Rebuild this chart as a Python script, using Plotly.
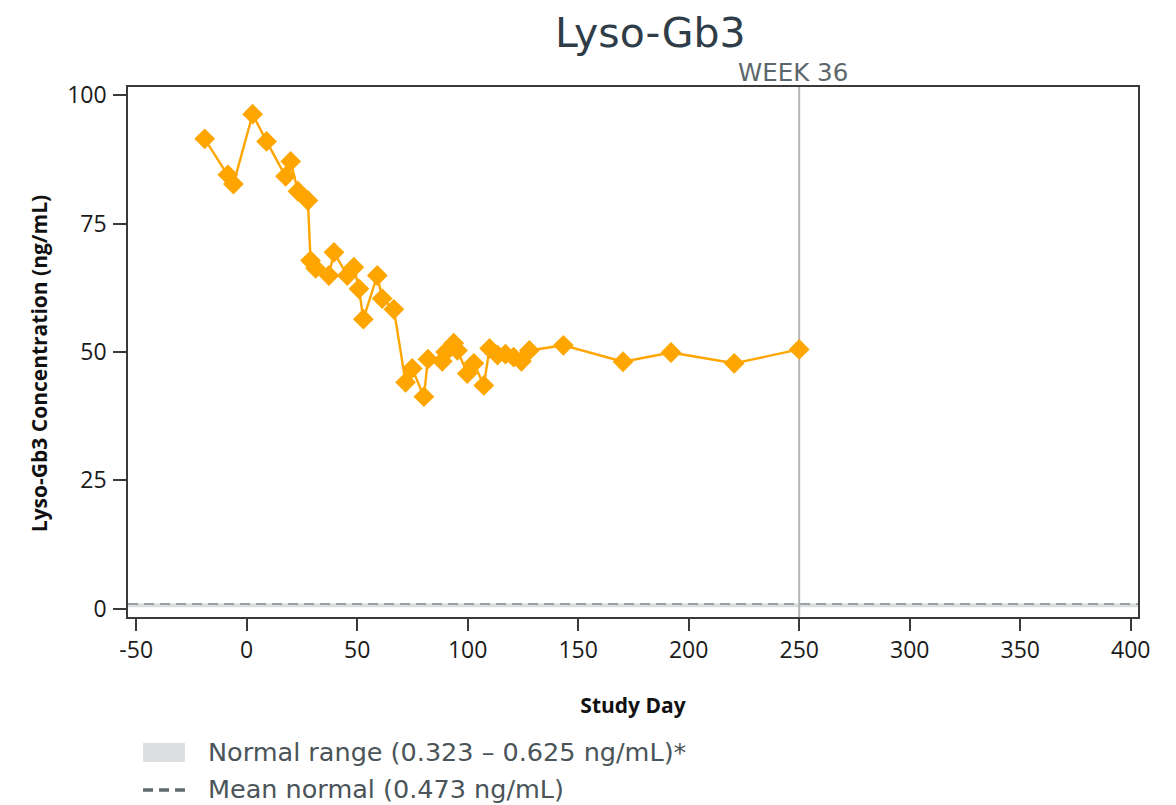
import plotly.graph_objects as go

# ---- data ----
study_day = [-19.0, -8.5, -6.0, 2.7, 9.0, 17.6, 19.9, 23.2, 27.7, 28.9, 31.2, 37.2, 39.5,
             45.5, 48.5, 50.8, 52.8, 59.1, 61.3, 66.6, 71.9, 74.9, 80.2, 82.0, 88.5, 90.0,
             93.7, 95.4, 99.8, 102.8, 107.3, 109.9, 113.5, 117.1, 120.8, 124.3, 127.9,
             143.3, 170.3, 192.0, 220.6, 250.0]
lyso_gb3 = [91.5, 84.5, 82.7, 96.3, 91.0, 84.2, 87.1, 81.3, 79.5, 67.8, 66.3, 64.9, 69.4,
            64.9, 66.5, 62.3, 56.4, 64.9, 60.4, 58.3, 44.1, 46.8, 41.3, 48.6, 48.2, 50.0,
            51.7, 50.3, 45.8, 47.8, 43.5, 50.7, 49.4, 49.6, 49.0, 48.2, 50.3,
            51.3, 48.1, 49.9, 47.8, 50.5]

normal_low = 0.3
normal_high = 1.1
mean_normal = 0.95
week36_day = 250

x_ticks = [-50, 0, 50, 100, 150, 200, 250, 300, 350, 400]
x_tick_text = ["-50", "0", "50", "100", "150", "200", "250", "300", "350", "400"]
y_ticks = [0, 25, 50, 75, 100]

legend_labels = ["Normal range (0.323 \u2013 0.625 ng/mL)*", "Mean normal (0.473 ng/mL)"]
y_title = "Lyso-Gb3 Concentration (ng/mL)"
x_title = "Study Day"

FONT = "Open Sans"
TFONT = "DejaVu Sans"
ORANGE = "#FFA500"

fig = go.Figure()
fig.add_trace(go.Scatter(
    x=study_day, y=lyso_gb3, mode="lines+markers",
    line=dict(color=ORANGE, width=2.4),
    marker=dict(symbol="diamond", size=16, color=ORANGE),
    showlegend=False, cliponaxis=False,
))

shapes = [
    dict(type="rect", xref="paper", yref="y", x0=0, x1=1, y0=normal_low, y1=normal_high,
         fillcolor="#dcdfe0", line=dict(width=0), layer="below"),
    dict(type="line", xref="paper", yref="y", x0=0, x1=1, y0=mean_normal, y1=mean_normal,
         line=dict(color="#9aa1a4", width=2, dash="10px,6px"), layer="below"),
    dict(type="line", xref="x", yref="paper", x0=week36_day, x1=week36_day, y0=0, y1=1,
         line=dict(color="#b4b4b4", width=2), layer="below"),
    dict(type="rect", xref="paper", yref="paper", x0=0.0149, x1=0.0564, y0=-0.2736, y1=-0.2377,
         fillcolor="#dcdfe0", line=dict(width=0)),
    dict(type="line", xref="paper", yref="paper", x0=0.0149, x1=0.0564, y0=-0.3264, y1=-0.3264,
         line=dict(color="#5f6b70", width=3.5, dash="10px,6px")),
]

annotations = [
    dict(x=week36_day, xref="x", y=1, yref="paper", yanchor="bottom", xanchor="center",
         xshift=-6, yshift=-2, text="WEEK 36", showarrow=False,
         font=dict(family=TFONT, size=24.5, color="#5c676c")),
    dict(x=0.0772, xref="paper", y=-0.2547, yref="paper", xanchor="left", yanchor="middle",
         text=legend_labels[0], showarrow=False,
         font=dict(family=TFONT, size=25.5, color="#4a5459")),
    dict(x=0.0772, xref="paper", y=-0.3245, yref="paper", xanchor="left", yanchor="middle",
         text=legend_labels[1], showarrow=False,
         font=dict(family=TFONT, size=25.5, color="#4a5459")),
    dict(x=-0.0881, xref="paper", y=0.477, yref="paper", xanchor="center", yanchor="middle",
         text="<b>" + y_title + "</b>", textangle=-90, showarrow=False,
         font=dict(family=FONT, size=21, color="#111")),
]

fig.update_layout(
    width=1176, height=805,
    margin=dict(l=128, r=38, t=87, b=188),
    paper_bgcolor="white", plot_bgcolor="white",
    title=dict(text="Lyso-Gb3", x=0.553, xanchor="center", y=0.96, yanchor="middle",
               font=dict(family=TFONT, size=41, color="#2f3d48")),
    shapes=shapes, annotations=annotations,
    showlegend=False,
)

axis_common = dict(showgrid=False, zeroline=False, showline=True, mirror=True,
                   linecolor="#3a3a3a", linewidth=1.5, ticks="outside", tickcolor="#3a3a3a",
                   tickwidth=1.5,
                   tickfont=dict(family=FONT, size=23, color="#1a1a1a"))

fig.update_xaxes(range=[-53.7, 403.3], tickvals=x_ticks, ticktext=x_tick_text,
                 ticklen=12, ticklabelstandoff=0,
                 title=dict(text="<b>" + x_title + "</b>", standoff=34,
                            font=dict(family=FONT, size=21, color="#111")),
                 **axis_common)
fig.update_yaxes(range=[-1.6, 101.6], tickvals=y_ticks, ticklen=13, ticklabelstandoff=2,
                 **axis_common)

fig.write_html("out.html", config={"displayModeBar": False},
               post_script="document.body.style.margin='0px';")
